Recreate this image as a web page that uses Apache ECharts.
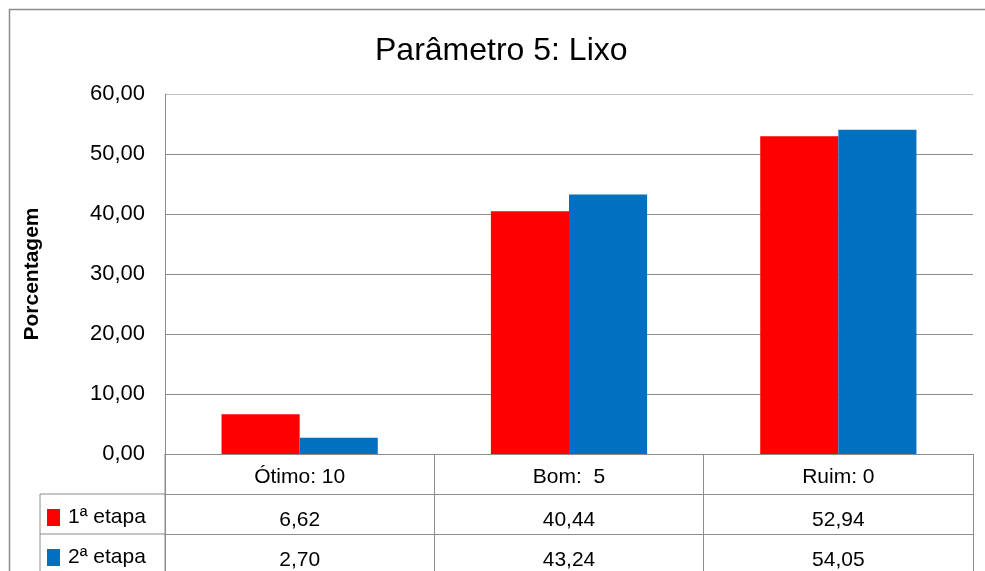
<!DOCTYPE html>
<html>
<head>
<meta charset="utf-8">
<script src="https://cdn.jsdelivr.net/npm/echarts@6/dist/echarts.min.js"></script>
<style>
  html, body { margin: 0; padding: 0; background: #fff; }
  #main { width: 985px; height: 571px; }
</style>
</head>
<body>
<div id="main"></div>
<script>
// dados do gráfico
var categorias = ['Ótimo: 10', 'Bom:  5', 'Ruim: 0'];
var nomesSeries = ['1ª etapa', '2ª etapa'];
var etapa1 = [6.62, 40.44, 52.94];
var etapa2 = [2.70, 43.24, 54.05];
var coresSeries = ['#FF0000', '#0070C0'];

var fonte = 'Liberation Sans, Arial, sans-serif';
var gridLeft = 165, gridTop = 94, gridW = 808, gridH = 360;
var rowH = 40;
var linha = '#8c8c8c';

function virgula(v) { return v.toFixed(2).replace('.', ','); }

var myChart = echarts.init(document.getElementById('main'));

// eixos x: cabeçalho + uma linha da tabela por série
var xAxes = [{
  type: 'category', data: categorias, gridIndex: 0, position: 'bottom', offset: 0,
  axisLine: { show: true, lineStyle: { color: linha, width: 1 } },
  axisTick: { show: true, length: rowH, lineStyle: { color: linha } },
  axisLabel: { fontSize: 21, color: '#000', fontFamily: fonte, margin: 13 }
}];
[etapa1, etapa2].forEach(function (vals, i) {
  xAxes.push({
    type: 'category', data: vals.map(virgula), gridIndex: 0, position: 'bottom',
    offset: rowH * (i + 1),
    axisLine: { show: true, lineStyle: { color: linha, width: 1 } },
    axisTick: { show: true, length: rowH, lineStyle: { color: linha } },
    axisLabel: { fontSize: 21, color: '#000', fontFamily: fonte, margin: 16 }
  });
});

var yBottom = gridTop + gridH;

// uma legenda por linha da tabela
var legendas = nomesSeries.map(function (nome, i) {
  return {
    left: 47, top: yBottom + rowH * (i + 1) + 13, padding: 0,
    itemWidth: 13, itemHeight: 17, itemGap: 0, icon: 'rect', data: [nome],
    textStyle: { fontSize: 21, color: '#000', fontFamily: fonte, padding: [0, 0, 0, 3] }
  };
});

myChart.setOption({
  animation: false,
  title: {
    text: 'Parâmetro 5: Lixo', left: 370, top: 30,
    textStyle: { fontSize: 32, fontWeight: 'normal', color: '#000', fontFamily: fonte }
  },
  color: coresSeries,
  legend: legendas,
  grid: { left: gridLeft, top: gridTop, width: gridW, height: gridH, containLabel: false },
  xAxis: xAxes,
  yAxis: {
    type: 'value', min: 0, max: 60, interval: 10,
    name: 'Porcentagem', nameLocation: 'middle', nameRotate: 90, nameGap: 122,
    nameTextStyle: { fontSize: 21, fontWeight: 'bold', color: '#000', fontFamily: fonte },
    axisLine: { show: true, lineStyle: { color: linha } },
    axisTick: { show: false },
    splitLine: { lineStyle: { color: [linha, linha, linha, linha, linha, linha, '#c0c0c0'], width: 1 } },
    axisLabel: { fontSize: 22, color: '#000', fontFamily: fonte, margin: 20, padding: [6, 0, 0, 0], formatter: virgula }
  },
  series: [
    { name: nomesSeries[0], type: 'bar', data: etapa1, barGap: 0, barCategoryGap: '42%' },
    { name: nomesSeries[1], type: 'bar', data: etapa2, barGap: 0, barCategoryGap: '42%' }
  ],
  graphic: [
    // moldura externa
    { type: 'rect', shape: { x: 9.5, y: 9.5, width: 1000, height: 600 },
      style: { fill: null, stroke: linha, lineWidth: 1.5 }, silent: true },
    // coluna da legenda na tabela
    { type: 'line', shape: { x1: 40, y1: yBottom + rowH, x2: gridLeft, y2: yBottom + rowH },
      style: { stroke: linha, lineWidth: 1 } },
    { type: 'line', shape: { x1: 40, y1: yBottom + 2 * rowH, x2: gridLeft, y2: yBottom + 2 * rowH },
      style: { stroke: linha, lineWidth: 1 } },
    { type: 'line', shape: { x1: 40, y1: yBottom + rowH, x2: 40, y2: 600 },
      style: { stroke: linha, lineWidth: 1 } },
    { type: 'line', shape: { x1: gridLeft, y1: yBottom, x2: gridLeft, y2: 600 },
      style: { stroke: linha, lineWidth: 1 } }
  ]
});
</script>
</body>
</html>
